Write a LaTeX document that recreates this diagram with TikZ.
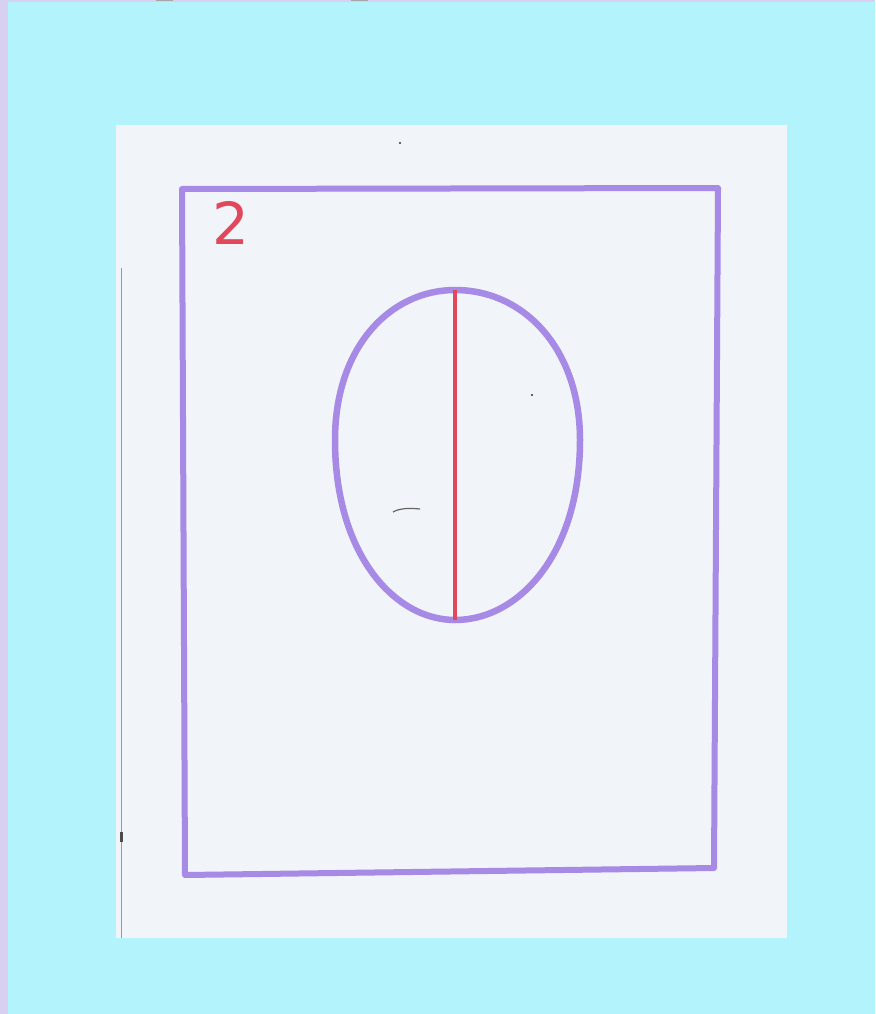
\documentclass[tikz,border=0pt]{standalone}
\usepackage{fontspec}
\setmainfont{DejaVu Sans}
\definecolor{bgcyan}{HTML}{B3F3FB}
\definecolor{lav}{HTML}{D8D0F0}
\definecolor{paper}{HTML}{F1F4F8}
\definecolor{marker}{HTML}{A68AE6}
\definecolor{redpen}{HTML}{E2485C}
\tikzset{
  pen/.style={draw=marker, line width=6pt, line cap=round, line join=round},
  redline/.style={draw=redpen, line width=4.5pt},
}
\begin{document}
\begin{tikzpicture}[x=1pt,y=-1pt]
\useasboundingbox (0,0) rectangle (875,1014);
% backgrounds
\fill[lav] (0,0) rectangle (875,1014);
\fill[bgcyan] (8,2) rectangle (875,1014);
\fill[gray!70] (156,0) rectangle (173,1.5);
\fill[gray!70] (351,0) rectangle (368,1.5);
\fill[paper] (116,125) rectangle (787,938);
% thin margin line
\coordinate (m1) at (121,268);
\coordinate (m2) at (121,938);
\draw[gray!80, line width=1pt] (m1) -- (m2);
\fill[black!70] (120,832) rectangle (123,842);
% frame
\coordinate (tl) at (182,189);
\coordinate (tr) at (718,188);
\coordinate (br) at (714,868);
\coordinate (bl) at (185,875);
\draw[pen] (tl) -- (tr) -- (br) -- (bl) -- cycle;
% number
\node[text=redpen, font=\fontsize{58}{58}\selectfont, inner sep=0pt] (num) at (231,223) {2};
% egg
\coordinate (top) at (455,290);
\coordinate (rt) at (580,440);
\coordinate (bot) at (455,620);
\coordinate (lf) at (335,440);
\draw[pen, line width=6.5pt] (top) .. controls (525,290) and (580,350) .. (rt)
  .. controls (580,555) and (518,620) .. (bot)
  .. controls (395,620) and (335,555) .. (lf)
  .. controls (335,345) and (392,290) .. (top) -- cycle;
% axis
\draw[redline] (top) -- (bot);
% specks
\fill[black!80] (400,143) circle (1.2);
\fill[black!80] (532,395) circle (1.2);
\draw[black!60, line width=1.2pt] (393,512) .. controls (400,508) and (410,508) .. (420,509);
\end{tikzpicture}
\end{document}
